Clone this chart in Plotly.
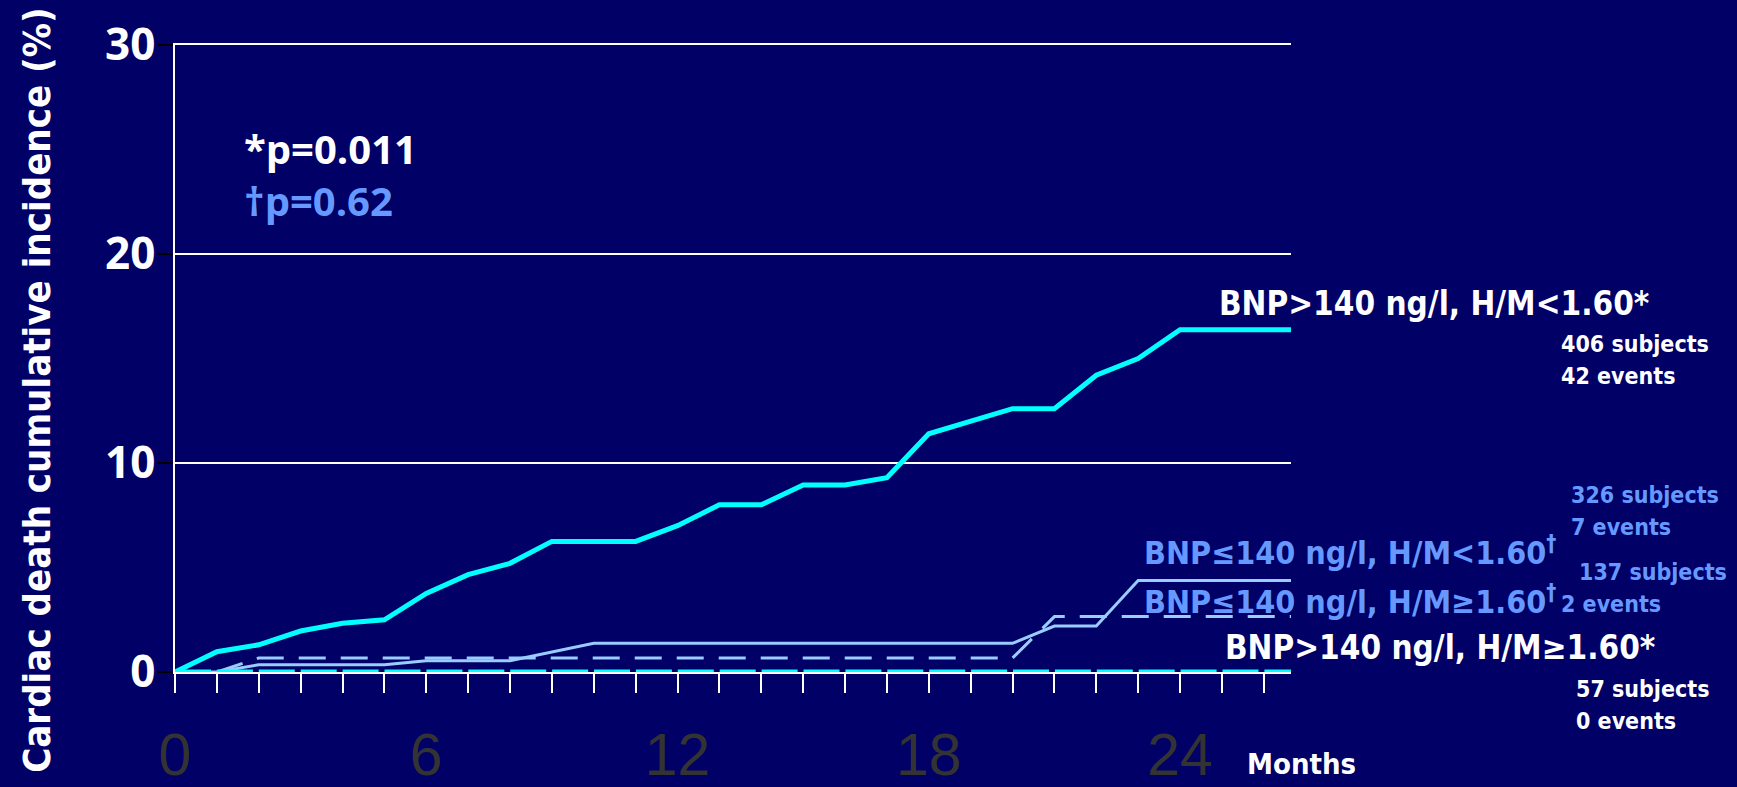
import plotly.graph_objects as go

# Follow-up time (months) and cumulative cardiac-death incidence (%) per group
months_hi_low = [0, 1, 2, 3, 4, 5, 6, 7, 8, 9, 10, 11, 12, 13, 14, 15, 16, 17, 18,
                 19, 20, 21, 22, 23, 24, 26.65]
inc_hi_low = [0, 0.97, 1.3, 1.96, 2.33, 2.5, 3.76, 4.66, 5.2, 6.25, 6.25, 6.25, 7.0,
              8.0, 8.0, 8.95, 8.95, 9.3, 11.4, 12.0, 12.6, 12.6, 14.2, 15.0, 16.38, 16.38]

months_lo_low = [0, 1, 2, 5, 6, 8, 10, 20, 21, 22, 23, 26.65]
inc_lo_low = [0, 0, 0.35, 0.35, 0.54, 0.54, 1.37, 1.37, 2.2, 2.2, 4.38, 4.38]

months_lo_high = [0, 1, 2, 20, 21, 26.65]
inc_lo_high = [0, 0, 0.67, 0.67, 2.65, 2.65]

months_hi_high = [0, 26.65]
inc_hi_high = [0, 0]

x_tick_vals = [0, 6, 12, 18, 24]
y_tick_vals = [0, 10, 20, 30]

X_RANGE = [0, 26.65]
Y_RANGE = [0, 30]

BG = "#000066"
CYAN = "#00ffff"
PALE = "#99ccff"
BLUE = "#6699ff"
WHITE = "#ffffff"
COND = "DejaVu Sans Condensed, Liberation Sans Narrow, Roboto Condensed, sans-serif"
OPEN = "Open Sans, DejaVu Sans, sans-serif"

fig = go.Figure()
fig.add_trace(go.Scatter(x=months_lo_high, y=inc_lo_high, mode="lines",
                         line=dict(color=PALE, width=3, dash="27px,15px"),
                         cliponaxis=False, hoverinfo="skip"))
fig.add_trace(go.Scatter(x=months_lo_low, y=inc_lo_low, mode="lines",
                         line=dict(color=PALE, width=3),
                         cliponaxis=False, hoverinfo="skip"))
fig.add_trace(go.Scatter(x=months_hi_high, y=inc_hi_high, mode="lines",
                         line=dict(color=CYAN, width=5, dash="36px,5.9px"),
                         cliponaxis=False, hoverinfo="skip"))
fig.add_trace(go.Scatter(x=months_hi_low, y=inc_hi_low, mode="lines",
                         line=dict(color=CYAN, width=5),
                         cliponaxis=False, hoverinfo="skip"))


def label(text, month, pct, color, size, family=COND, anchor="left", angle=0):
    # place text in month / percent units, converted to paper fractions so it
    # may sit outside the plotting area
    px = (month - X_RANGE[0]) / (X_RANGE[1] - X_RANGE[0])
    py = (pct - Y_RANGE[0]) / (Y_RANGE[1] - Y_RANGE[0])
    fig.add_annotation(text=text, x=px, y=py, xref="paper", yref="paper",
                       showarrow=False, xanchor=anchor, yanchor="middle",
                       textangle=angle,
                       font=dict(family=family, size=size, color=color, weight="bold"))


# p-values
label("*p=0.011", 1.60, 25.06, WHITE, 40, family=OPEN)
label("†p=0.62", 1.60, 22.58, BLUE, 40, family=OPEN)

# group labels
label("BNP&gt;140 ng/l, H/M&lt;1.60*", 24.89, 17.64, WHITE, 33)
label("406 subjects", 33.04, 15.68, WHITE, 23)
label("42 events", 33.04, 14.17, WHITE, 23)

label("326 subjects", 33.30, 8.45, BLUE, 23)
label("7 events", 33.30, 6.93, BLUE, 23)
label("BNP≤140 ng/l, H/M&lt;1.60<sup>†</sup>", 23.09, 5.78, BLUE, 32)

label("137 subjects", 33.48, 4.78, BLUE, 23)
label("2 events", 33.05, 3.24, BLUE, 23)
label("BNP≤140 ng/l, H/M≥1.60<sup>†</sup>", 23.09, 3.44, BLUE, 32)

label("BNP&gt;140 ng/l, H/M≥1.60*", 25.02, 1.17, WHITE, 33)
label("57 subjects", 33.40, -0.82, WHITE, 23)
label("0 events", 33.40, -2.34, WHITE, 23)

label("Months", 25.56, -4.41, WHITE, 29)

# vertical axis title
label("Cardiac death cumulative incidence (%)", -3.30, 13.49, WHITE, 38,
      anchor="center", angle=-90)

fig.update_layout(
    width=1737, height=787,
    margin=dict(l=175, r=446.3, t=44.5, b=115, autoexpand=False),
    paper_bgcolor=BG, plot_bgcolor=BG,
    showlegend=False,
    xaxis=dict(range=X_RANGE, tickvals=x_tick_vals,
               showgrid=False, zeroline=False, showline=True, mirror=True,
               linecolor=WHITE, linewidth=1.5, ticks="outside", ticklen=19,
               tickwidth=2, tickcolor=WHITE, ticklabelstandoff=11,
               minor=dict(ticks="outside", tick0=0, dtick=1, ticklen=19,
                          tickwidth=2, tickcolor=WHITE, showgrid=False),
               tickfont=dict(family="Liberation Sans, Arial, sans-serif",
                             size=59, color="#333333")),
    yaxis=dict(range=Y_RANGE, tickvals=y_tick_vals, showgrid=True,
               gridcolor=WHITE, gridwidth=1.5, zeroline=False, showline=True,
               linecolor=WHITE, linewidth=1.5, ticks="outside", ticklen=16,
               tickwidth=2, tickcolor="black", ticklabelstandoff=-7,
               tickfont=dict(family=OPEN, size=44, color=WHITE, weight="bold")),
)

fig.write_html("out.html")
